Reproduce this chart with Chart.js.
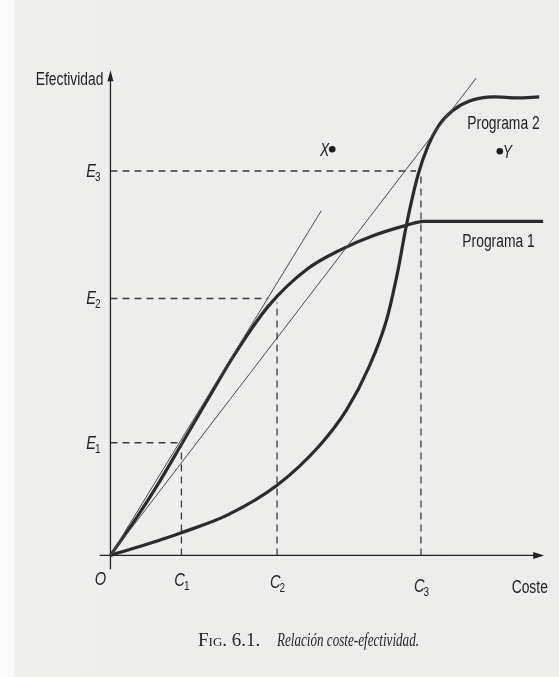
<!DOCTYPE html>
<html>
<head>
<meta charset="utf-8">
<script src="https://cdn.jsdelivr.net/npm/chart.js@4.4.1/dist/chart.umd.min.js"></script>
<style>
  html, body { margin: 0; padding: 0; }
  body {
    width: 559px; height: 677px; position: relative; overflow: hidden;
    background: linear-gradient(to right, #fbfbfb 0px, #fbfbfb 13px, #eeeeed 16px, #ececeb 100%);
  }
  #js_cost_chart { position: absolute; left: 0; top: 0; }
  #caption {
    position: absolute; left: 198px; top: 630px; white-space: nowrap;
    font-family: 'Liberation Serif', 'DejaVu Serif', serif; font-size: 19px; line-height: 20px; color: #262626;
  }
  #caption .fig { font-variant: small-caps; display: inline-block; }
  #caption .rel { font-style: italic; display: inline-block; position: absolute; left: 79px; top: 0;
    transform: scaleX(0.69); transform-origin: left top; }
</style>
</head>
<body>
<canvas id="js_cost_chart" width="559" height="677"></canvas>
<div id="caption"><span class="fig">Fig. 6.1.</span><span class="rel">Relación coste-efectividad.</span></div>
<script>
// values, in pixel-like units from the origin O
const costTicks = [72, 169, 315]        // C1, C2, C3
const effTicks = [114, 260, 389]        // E1, E2, E3
const tickSubs = ['1', '2', '3']

// where the dashed guides stop
const effGuideEnd = [72, 160, 310]      // horizontal E guides end at this cost
const costGuideTop = [114, 256, 385]    // vertical C guides end at this effectiveness

const programa1Cost = [0, 25, 50, 73, 100, 125, 160, 200, 235, 265, 300, 318, 439]
const programa1Eff = [0, 36, 75, 114, 160, 202, 252, 290, 310, 323, 334, 338, 338]

const programa2Cost = [0, 36, 72, 119, 169, 212, 240, 262, 280, 292, 300, 312, 322, 333, 347, 365, 389, 412, 435]
const programa2Eff = [0, 11, 23, 41, 71, 111, 148, 190, 238, 290, 333, 385, 414, 435, 450, 460, 464, 463, 464]

// two rays from the origin
const rayEndCost = [214, 371]
const rayEndEff = [349, 483]

const pointNames = ['X', 'Y']
const pointCost = [225, 395]
const pointEff = [411, 409]

const ink = '#2b2b2b'
const sans = "'Liberation Sans', Arial, sans-serif"
const squeeze = 0.77   // the figure uses a condensed sans

function toXY(xs, ys) {
  return xs.map((v, i) => ({x: v, y: ys[i]}))
}

const datasets = []

// dashed guides
for (let i = 0; i < effTicks.length; i++) {
  datasets.push({
    data: [{x: 0, y: effTicks[i]}, {x: effGuideEnd[i], y: effTicks[i]}],
    borderColor: '#3a3a3a', borderWidth: 1.3, borderDash: [7, 5], showLine: true, pointRadius: 0,
  })
  datasets.push({
    data: [{x: costTicks[i], y: 0}, {x: costTicks[i], y: costGuideTop[i]}],
    borderColor: '#3a3a3a', borderWidth: 1.3, borderDash: [7, 5], showLine: true, pointRadius: 0,
  })
}

// thin rays
for (let i = 0; i < rayEndCost.length; i++) {
  datasets.push({
    data: [{x: 0, y: 0}, {x: rayEndCost[i], y: rayEndEff[i]}],
    borderColor: '#4a4a4a', borderWidth: 1, showLine: true, pointRadius: 0,
  })
}

datasets.push({
  label: 'Programa 1',
  data: toXY(programa1Cost, programa1Eff),
  borderColor: ink, borderWidth: 3.2, showLine: true, pointRadius: 0,
  cubicInterpolationMode: 'monotone',
})
datasets.push({
  label: 'Programa 2',
  data: toXY(programa2Cost, programa2Eff),
  borderColor: ink, borderWidth: 3.2, showLine: true, pointRadius: 0,
  cubicInterpolationMode: 'monotone',
})
datasets.push({
  label: 'puntos',
  data: toXY(pointCost, pointEff),
  showLine: false, pointRadius: 3.3, pointBackgroundColor: '#1e1e1e', pointBorderWidth: 0,
})

// draw condensed text, returns its width
function narrowText(ctx, text, px, py, size, italic, align) {
  ctx.save()
  ctx.font = (italic ? 'italic ' : '') + size + 'px ' + sans
  const w = ctx.measureText(text).width * squeeze
  let left = px
  if (align === 'center') left = px - w / 2
  if (align === 'right') left = px - w
  ctx.translate(left, py)
  ctx.scale(squeeze, 1)
  ctx.textAlign = 'left'
  ctx.fillText(text, 0, 0)
  ctx.restore()
  return w
}

function textWidth(ctx, text, size, italic) {
  ctx.font = (italic ? 'italic ' : '') + size + 'px ' + sans
  return ctx.measureText(text).width * squeeze
}

function subLabel(ctx, base, sub, px, py, align) {
  const w1 = textWidth(ctx, base, 19, true)
  const w2 = textWidth(ctx, sub, 13, false)
  let left = px
  if (align === 'center') left = px - (w1 + w2) / 2
  if (align === 'right') left = px - (w1 + w2)
  narrowText(ctx, base, left, py, 19, true, 'left')
  narrowText(ctx, sub, left + w1 - 1, py + 4, 13, false, 'left')
}

const axesPlugin = {
  id: 'axes',
  beforeDatasetsDraw(chart) {
    const {ctx, scales: {x, y}} = chart
    const x0 = x.getPixelForValue(0), y0 = y.getPixelForValue(0)
    const xEnd = x.getPixelForValue(440), yEnd = y.getPixelForValue(491)
    ctx.save()
    ctx.strokeStyle = '#222'
    ctx.fillStyle = '#222'
    ctx.lineWidth = 1.3
    ctx.beginPath()
    ctx.moveTo(x.getPixelForValue(-11), y0)
    ctx.lineTo(xEnd - 4, y0)
    ctx.moveTo(x0, y.getPixelForValue(-14))
    ctx.lineTo(x0, yEnd + 4)
    ctx.stroke()
    // arrow heads
    ctx.beginPath()
    ctx.moveTo(xEnd, y0)
    ctx.lineTo(xEnd - 11, y0 - 3.5)
    ctx.lineTo(xEnd - 11, y0 + 3.5)
    ctx.closePath()
    ctx.fill()
    ctx.beginPath()
    ctx.moveTo(x0, yEnd)
    ctx.lineTo(x0 - 3, yEnd + 11)
    ctx.lineTo(x0 + 3, yEnd + 11)
    ctx.closePath()
    ctx.fill()
    ctx.restore()
  },
  afterDatasetsDraw(chart) {
    const {ctx, scales: {x, y}} = chart
    const x0 = x.getPixelForValue(0), y0 = y.getPixelForValue(0)
    ctx.save()
    ctx.fillStyle = '#232323'
    ctx.textBaseline = 'alphabetic'

    // E ticks
    effTicks.forEach((v, i) => {
      subLabel(ctx, 'E', tickSubs[i], x0 - 9, y.getPixelForValue(v) + 6, 'right')
    })
    // C ticks (page is slightly tilted, labels drift down to the right)
    const cDrop = [31, 33, 37]
    costTicks.forEach((v, i) => {
      subLabel(ctx, 'C', tickSubs[i], x.getPixelForValue(v) + 1, y0 + cDrop[i], 'center')
    })

    narrowText(ctx, 'O', x0 - 10, y0 + 30, 19, true, 'center')
    narrowText(ctx, 'Efectividad', x0 - 7, y.getPixelForValue(476), 18, false, 'right')
    narrowText(ctx, 'Coste', x.getPixelForValue(407), y0 + 38, 18, false, 'left')
    narrowText(ctx, 'Programa 2', x.getPixelForValue(362), y.getPixelForValue(432), 18, false, 'left')
    narrowText(ctx, 'Programa 1', x.getPixelForValue(357), y.getPixelForValue(312), 18, false, 'left')

    narrowText(ctx, pointNames[0], x.getPixelForValue(pointCost[0]) - 3, y.getPixelForValue(pointEff[0]) + 7, 18, true, 'right')
    narrowText(ctx, pointNames[1], x.getPixelForValue(pointCost[1]) + 3, y.getPixelForValue(pointEff[1]) + 7, 18, true, 'left')
    ctx.restore()
  }
}

function costChart() {
  const config = {
    type: 'scatter',
    data: {datasets},
    options: {
      responsive: false,
      animation: false,
      events: [],
      layout: {padding: 0},
      scales: {
        x: {type: 'linear', min: -108, max: 451, display: false},
        y: {type: 'linear', min: -119, max: 558, display: false},
      },
      plugins: {legend: {display: false}, tooltip: {enabled: false}},
    },
    plugins: [axesPlugin],
  }
  const ctx = document.getElementById('js_cost_chart').getContext('2d')
  new Chart(ctx, config)
}

costChart()
</script>
</body>
</html>
